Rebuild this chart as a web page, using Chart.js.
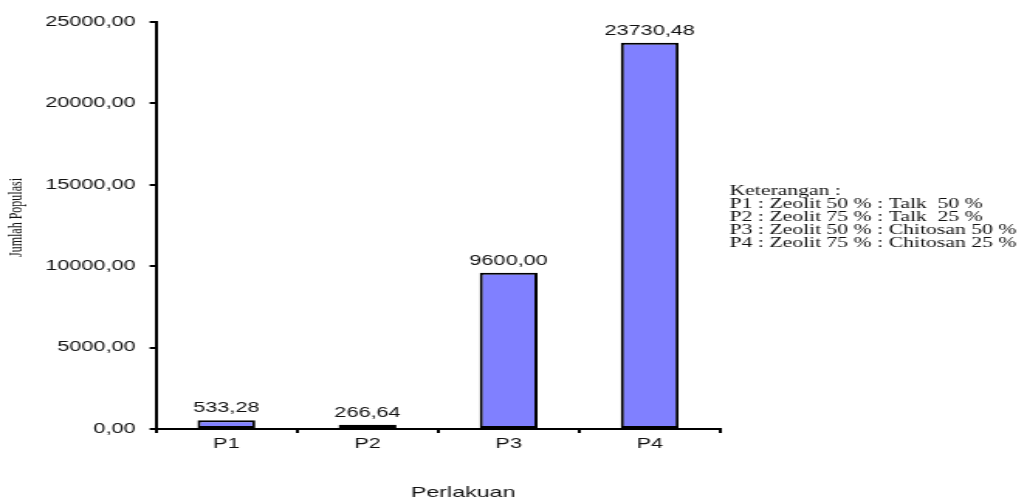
<!DOCTYPE html>
<html>
<head>
<meta charset="utf-8">
<script src="https://cdn.jsdelivr.net/npm/chart.js@4.4.1/dist/chart.umd.min.js"></script>
<style>
  html, body { margin: 0; padding: 0; background: #fff; overflow: hidden; }
  #wrap { width: 659px; height: 499px; transform: scaleX(1.549); transform-origin: 0 0; }
</style>
</head>
<body>
<div id="wrap"><canvas id="c" width="659" height="499"></canvas></div>
<script>
// Jumlah populasi per perlakuan
const categories = ['P1', 'P2', 'P3', 'P4'];
const populasi = [533.28, 266.64, 9600.00, 23730.48];
const yTicks = [0, 5000, 10000, 15000, 20000, 25000];
const yTitle = 'Jumlah Populasi';
const xTitle = 'Perlakuan';
const keterangan = [
  'Keterangan :',
  'P1 : Zeolit 50 % : Talk  50 %',
  'P2 : Zeolit 75 % : Talk  25 %',
  'P3 : Zeolit 50 % : Chitosan 50 %',
  'P4 : Zeolit 75 % : Chitosan 25 %'
];

const fmt = v => Number(v).toFixed(2).replace('.', ',');

// value labels above bars, axis titles and the notes block on the right
const annotate = {
  id: 'annotate',
  afterDatasetsDraw(chart) {
    const ctx = chart.ctx;
    const area = chart.chartArea;
    ctx.save();
    ctx.fillStyle = '#111';
    ctx.font = '14px "Liberation Sans", Arial, sans-serif';
    ctx.textAlign = 'center';
    ctx.textBaseline = 'bottom';
    chart.getDatasetMeta(0).data.forEach((bar, i) => {
      ctx.fillText(fmt(populasi[i]), bar.x, bar.y - 5);
    });

    ctx.font = '15px "Liberation Sans", Arial, sans-serif';
    ctx.textBaseline = 'middle';
    ctx.fillText(xTitle, 299, 493);

    ctx.save();
    ctx.translate(11, (area.top + area.bottom) / 2 - 8);
    ctx.rotate(-Math.PI / 2);
    ctx.font = '12px "Liberation Serif", "Times New Roman", serif';
    ctx.fillText(yTitle, 0, 0);
    ctx.restore();

    ctx.font = '14px "Liberation Serif", "Times New Roman", serif';
    ctx.textAlign = 'left';
    keterangan.forEach((t, i) => ctx.fillText(t, 471, 191 + i * 13));
    ctx.restore();
  }
};

new Chart(document.getElementById('c'), {
  type: 'bar',
  data: {
    labels: categories,
    datasets: [{
      data: populasi,
      backgroundColor: '#8080FF',
      borderColor: '#000',
      borderWidth: 2,
      borderSkipped: false,
      barPercentage: 0.41,
      categoryPercentage: 1
    }]
  },
  options: {
    responsive: false,
    animation: false,
    devicePixelRatio: 1,
    layout: { padding: { left: 0, right: 194, top: 22, bottom: 0 } },
    plugins: { legend: { display: false }, tooltip: { enabled: false } },
    scales: {
      y: {
        min: 0, max: 25000,
        afterFit(s) { s.width = 100.6; },
        afterBuildTicks(s) { s.ticks = yTicks.map(v => ({ value: v })); },
        border: { display: true, color: '#000', width: 2 },
        grid: { drawOnChartArea: false, drawTicks: true, tickLength: 4, color: '#000', lineWidth: 2 },
        ticks: {
          padding: 9,
          color: '#111',
          font: { family: '"Liberation Sans", Arial, sans-serif', size: 14 },
          callback: v => fmt(v)
        }
      },
      x: {
        offset: true,
        afterFit(s) { s.height = 70; },
        border: { display: true, color: '#000', width: 2 },
        grid: { offset: true, drawOnChartArea: false, drawTicks: true, tickLength: 4, color: '#000', lineWidth: 2 },
        ticks: {
          padding: 3,
          color: '#111',
          font: { family: '"Liberation Sans", Arial, sans-serif', size: 14 }
        }
      }
    }
  },
  plugins: [annotate]
});
</script>
</body>
</html>
